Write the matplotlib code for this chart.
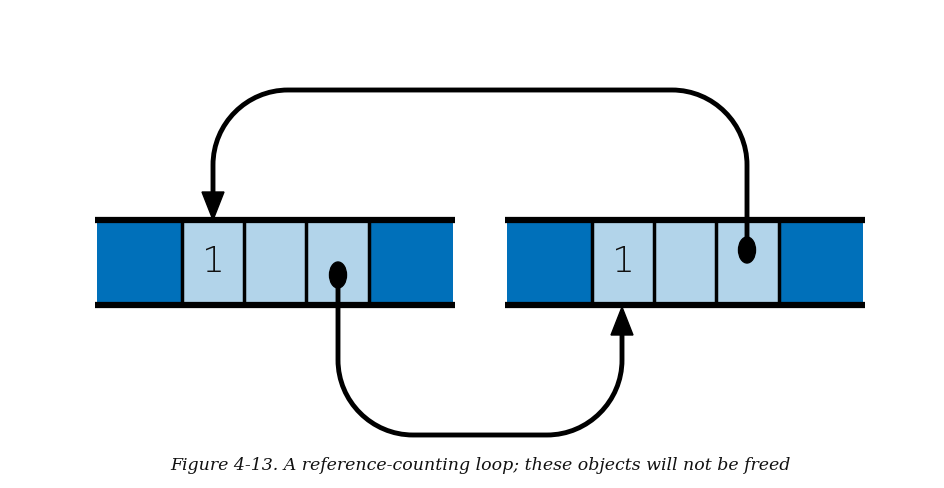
import matplotlib
matplotlib.use("Agg")
import matplotlib.pyplot as plt
from matplotlib.patches import Rectangle, Ellipse, PathPatch, Polygon
from matplotlib.path import Path

# Data
blocks_x0 = [97, 507]
cell_widths = [85, 62, 62, 63, 84]
cell_kinds = ["dark", "light", "light", "light", "dark"]
cell_labels = [["", "1", "", "", ""], ["", "1", "", "", ""]]
caption = "Figure 4-13. A reference-counting loop; these objects will not be freed"

DARK = "#0070BA"
LIGHT = "#B2D4EA"
Y0, Y1 = 220, 305

fig = plt.figure(figsize=(9.44, 4.88), dpi=100)
ax = fig.add_axes([0, 0, 1, 1])
ax.set_xlim(0, 944)
ax.set_ylim(488, 0)
ax.axis("off")

for b, x0 in enumerate(blocks_x0):
    x = x0
    edges = []
    for w, k, lab in zip(cell_widths, cell_kinds, cell_labels[b]):
        ax.add_patch(Rectangle((x, Y0), w, Y1 - Y0, facecolor=DARK if k == "dark" else LIGHT, edgecolor="none"))
        if lab:
            ax.text(x + w / 2, (Y0 + Y1) / 2, lab, ha="center", va="center", fontsize=26,
                    family="DejaVu Sans", fontweight="light", color="#111111")
        x += w
        edges.append(x)
    for e in edges[:-1]:
        ax.plot([e, e], [Y0, Y1], color="black", lw=2.5, solid_capstyle="butt")
    ax.plot([x0 - 2, x + 2], [Y0, Y0], color="black", lw=4.5, solid_capstyle="butt")
    ax.plot([x0 - 2, x + 2], [Y1, Y1], color="black", lw=4.5, solid_capstyle="butt")

def rounded(points, r):
    verts = [points[0]]; codes = [Path.MOVETO]
    import numpy as np
    for i in range(1, len(points) - 1):
        p0, p1, p2 = map(np.array, (points[i - 1], points[i], points[i + 1]))
        d0 = (p1 - p0) / np.linalg.norm(p1 - p0)
        d1 = (p2 - p1) / np.linalg.norm(p2 - p1)
        a = p1 - d0 * r; b = p1 + d1 * r
        verts += [tuple(a), tuple(p1 - d0 * r * 0.45), tuple(p1 + d1 * r * 0.45), tuple(b)]
        codes += [Path.LINETO, Path.CURVE4, Path.CURVE4, Path.CURVE4]
    verts.append(points[-1]); codes.append(Path.LINETO)
    return Path(verts, codes)

# upper arrow: right block dot -> left block refcount
ax.add_patch(PathPatch(rounded([(747, 250), (747, 90), (213, 90), (213, 198)], 75),
                       fill=False, lw=3.5, edgecolor="black"))
ax.add_patch(Polygon([(202, 192), (224, 192), (213, 220)], closed=True, color="black"))
# lower arrow: left block dot -> right block refcount
ax.add_patch(PathPatch(rounded([(338, 275), (338, 435), (622, 435), (622, 330)], 75),
                       fill=False, lw=3.5, edgecolor="black"))
ax.add_patch(Polygon([(611, 335), (633, 335), (622, 307)], closed=True, color="black"))

ax.add_patch(Ellipse((338, 275), 17, 26, color="black"))
ax.add_patch(Ellipse((747, 250), 17, 26, color="black"))

ax.text(480, 465, caption, ha="center", va="center", fontsize=12.5,
        family="DejaVu Serif", style="italic", color="#111111")

fig.savefig("out.png", dpi=100)
